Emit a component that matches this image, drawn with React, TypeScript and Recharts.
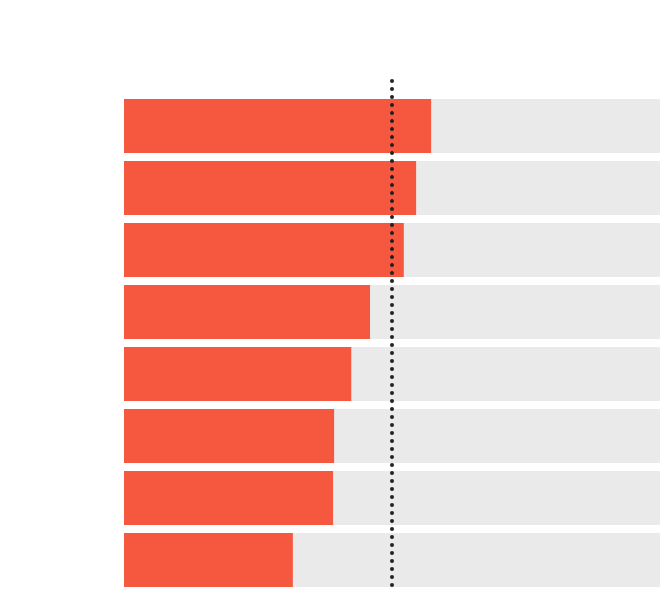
import React from "react";
import { BarChart, Bar, XAxis, YAxis, ReferenceLine } from "recharts";

const categories = ["A", "B", "C", "D", "E", "F", "G", "H"];
const values = [57.3, 54.5, 52.2, 45.9, 42.4, 39.2, 39.0, 31.5];
const referenceValue = 50;

const data = categories.map((name, i) => ({ name, value: values[i] }));

const DottedLine = (props: any) => {
  const { x1, y1, x2, y2 } = props;
  const top = Math.min(y1, y2);
  const bottom = Math.max(y1, y2);
  return (
    <line
      x1={x1}
      x2={x2}
      y1={top - 14}
      y2={bottom - 3}
      stroke="#222222"
      strokeWidth={4}
      strokeLinecap="round"
      strokeDasharray="0 8"
    />
  );
};

export default function App() {
  return (
    <div style={{ position: "fixed", left: 0, top: 0, width: 660, height: 594 }}>
      <BarChart
        width={660}
        height={594}
        data={data}
        layout="vertical"
        margin={{ top: 95, right: 0, bottom: 3, left: 124 }}
        barCategoryGap={4}
        style={{ overflow: "visible" }}
      >
        <XAxis type="number" domain={[0, 100]} hide />
        <YAxis type="category" dataKey="name" hide />
        <Bar
          dataKey="value"
          fill="#F5583F"
          background={{ fill: "#EAEAEA" }}
          isAnimationActive={false}
        />
        <ReferenceLine x={referenceValue} shape={DottedLine} ifOverflow="visible" />
      </BarChart>
    </div>
  );
}
